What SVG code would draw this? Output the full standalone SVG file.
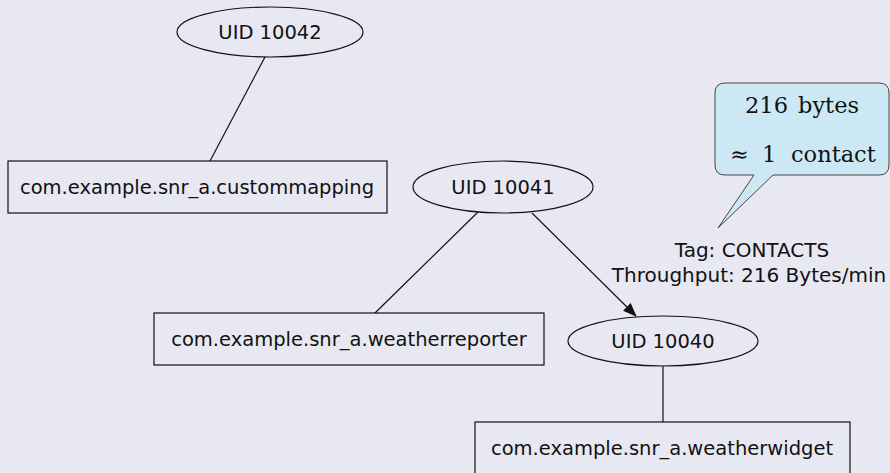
<svg xmlns="http://www.w3.org/2000/svg" width="890" height="473" viewBox="0 0 890 473">
<style>
.bg{fill:#e8e8f2}
.node{fill:none;stroke:#111;stroke-width:1.2}
.lbl{font-family:"DejaVu Sans",sans-serif;font-size:19.5px;fill:#111;text-anchor:middle}
.edge{stroke:#111;stroke-width:1.2;fill:none}
.el{font-family:"DejaVu Sans",sans-serif;font-size:20px;fill:#111;text-anchor:middle}
.call{fill:#cde8f5;stroke:#444;stroke-width:1}
.ct{font-family:"DejaVu Serif","Liberation Serif",serif;font-size:22.5px;fill:#111}
</style>
<defs>
<marker id="arr" markerWidth="14" markerHeight="11" refX="13" refY="5.5" orient="auto" markerUnits="userSpaceOnUse">
<path d="M0,0 L14,5.5 L0,11 z" fill="#111"/>
</marker>
</defs>
<rect class="bg" x="0" y="0" width="890" height="473"/>
<g id="connectors">
<line class="edge" x1="265" y1="57" x2="210" y2="161"/>
<line class="edge" x1="478" y1="212" x2="375" y2="313"/>
<line class="edge" x1="532" y1="213" x2="636" y2="316" marker-end="url(#arr)"/>
<line class="edge" x1="663" y1="366" x2="663" y2="422"/>
<text class="el" x="752" y="257">Tag: CONTACTS</text>
<text class="el" x="749" y="282">Throughput: 216 Bytes/min</text>
</g>
<g id="uid10042">
<ellipse class="node" cx="270" cy="32" rx="93" ry="25"/>
<text class="lbl" x="270" y="39">UID 10042</text>
</g>
<g id="custommapping">
<rect class="node" x="8" y="161" width="379" height="52"/>
<text class="lbl" x="197" y="194">com.example.snr_a.custommapping</text>
</g>
<g id="uid10041">
<ellipse class="node" cx="503" cy="187" rx="90" ry="26"/>
<text class="lbl" x="503" y="194">UID 10041</text>
</g>
<g id="weatherreporter">
<rect class="node" x="154" y="313" width="390" height="52"/>
<text class="lbl" x="349" y="346">com.example.snr_a.weatherreporter</text>
</g>
<g id="uid10040">
<ellipse class="node" cx="663" cy="341" rx="95" ry="25"/>
<text class="lbl" x="663" y="348">UID 10040</text>
</g>
<g id="weatherwidget">
<rect class="node" x="475" y="422" width="375" height="52"/>
<text class="lbl" x="662" y="455">com.example.snr_a.weatherwidget</text>
</g>
<g id="callout">
<path class="call" d="M725,83 H879 Q889,83 889,93 V165 Q889,175 879,175 H773 L718,228 L754,175 H725 Q715,175 715,165 V93 Q715,83 725,83 Z"/>
<text class="ct" y="113"><tspan x="745">216</tspan><tspan x="798">bytes</tspan></text>
<text class="ct" y="162"><tspan x="730">≈</tspan><tspan x="762">1</tspan><tspan x="791">contact</tspan></text>
</g>
</svg>
